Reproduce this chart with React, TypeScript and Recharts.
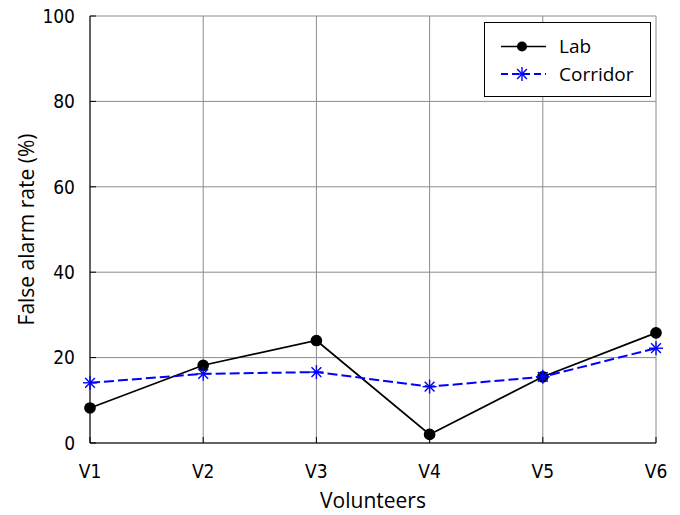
import { LineChart, Line, XAxis, YAxis, CartesianGrid } from "recharts";

const volunteers = ["V1", "V2", "V3", "V4", "V5", "V6"];
const labRate = [8.2, 18.2, 24.0, 2.0, 15.5, 25.8];
const corridorRate = [14.1, 16.2, 16.6, 13.2, 15.5, 22.2];
const yTicks = [0, 20, 40, 60, 80, 100];

const data = volunteers.map((v, i) => ({ name: v, lab: labRate[i], corridor: corridorRate[i] }));

const tickFamily = "'DejaVu Sans Condensed', 'DejaVu Sans', sans-serif";
const tickFont = { fontFamily: tickFamily, fontStretch: "condensed", fontSize: 19, fill: "#000" };
const labelFont = "'Open Sans', sans-serif";

function Star(props: any) {
  const { cx, cy } = props;
  if (cx == null || cy == null) return null;
  const r = 7;
  const d = r * 0.7;
  return (
    <g stroke="#0000ff" strokeWidth={1.4}>
      <line x1={cx} y1={cy - r} x2={cx} y2={cy + r} />
      <line x1={cx - r} y1={cy} x2={cx + r} y2={cy} />
      <line x1={cx - d} y1={cy - d} x2={cx + d} y2={cy + d} />
      <line x1={cx - d} y1={cy + d} x2={cx + d} y2={cy - d} />
    </g>
  );
}

function LegendBox() {
  return (
    <svg width={167} height={75} style={{ display: "block" }}>
      <rect x={0.5} y={0.5} width={166} height={74} fill="#fff" stroke="#000" />
      <line x1={17} y1={24.5} x2={62} y2={24.5} stroke="#000" strokeWidth={1.7} />
      <circle cx={38} cy={24.5} r={5} fill="#000" />
      <text x={75} y={31} fontFamily={labelFont} fontSize={19}>Lab</text>
      <line x1={17} y1={52} x2={62} y2={52} stroke="#0000ff" strokeWidth={2} strokeDasharray="7 4" />
      <Star cx={38} cy={52} />
      <text x={75} y={58.5} fontFamily={labelFont} fontSize={19}>Corridor</text>
    </svg>
  );
}

export default function App() {
  return (
    <div style={{ position: "absolute", left: 0, top: 0, width: 680, height: 515, background: "#fff" }}>
      <LineChart width={680} height={515} data={data} margin={{ top: 16, right: 24, bottom: 0, left: 0 }}>
        <CartesianGrid stroke="#8c8c8c" strokeWidth={1} />
        <XAxis
          dataKey="name"
          stroke="#000"
          tick={tickFont}
          tickSize={-6}
          tickMargin={28}
          height={72}
          interval={0}
          label={{ value: "Volunteers", position: "insideBottom", offset: 7, style: { fontFamily: labelFont, fontSize: 21, fill: "#000" } }}
        />
        <XAxis xAxisId="top" dataKey="name" orientation="top" height={0} stroke="#000" tick={false} tickSize={-6} />
        <YAxis
          domain={[0, 100]}
          ticks={yTicks}
          stroke="#000"
          tick={tickFont}
          tickSize={-6}
          tickMargin={21}
          width={90}
          label={{ value: "False alarm rate (%)", angle: -90, position: "insideLeft", offset: 27, style: { textAnchor: "middle", fontFamily: labelFont, fontSize: 21, fill: "#000" } }}
        />
        <YAxis yAxisId="right" orientation="right" domain={[0, 100]} ticks={yTicks} width={0} stroke="#000" tick={false} tickSize={-6} />
        <Line dataKey="lab" stroke="#000" strokeWidth={1.7} dot={{ r: 5, fill: "#000", stroke: "#000" }} isAnimationActive={false} />
        <Line dataKey="corridor" stroke="#0000ff" strokeWidth={2} strokeDasharray="10 4" dot={<Star />} isAnimationActive={false} />
      </LineChart>
      <div style={{ position: "absolute", left: 484, top: 22 }}>
        <LegendBox />
      </div>
    </div>
  );
}
